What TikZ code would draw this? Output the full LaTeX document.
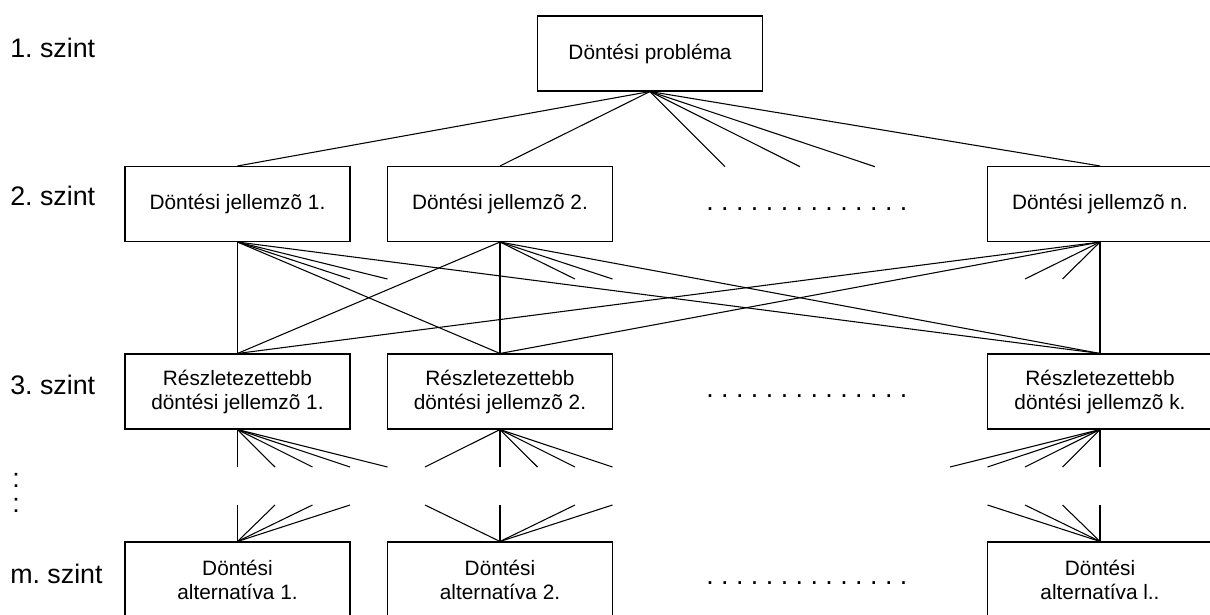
\documentclass[tikz,border=0pt]{standalone}
\usepackage{fontspec}
\setmainfont{Liberation Sans}
\frenchspacing
\begin{document}
\begin{tikzpicture}[x=0.75pt,y=-0.75pt,
  box/.style={draw,line width=0.8pt,minimum width=168.75pt,minimum height=56.25pt,
    inner sep=0pt,align=center,font=\fontsize{15.6pt}{18pt}\selectfont},
  lvl/.style={anchor=base west,inner sep=0pt,font=\fontsize{20.1pt}{24pt}\selectfont},
  dots/.style={anchor=base west,inner sep=0pt,font=\fontsize{20.1pt}{24pt}\selectfont},
  link/.style={line width=0.8pt}]
\useasboundingbox (0,0) rectangle (1210,614);
\fill[white] (0,0) rectangle (1210,614);
\clip (0,0) rectangle (1210,614);

% level labels
\node[lvl] (l1) at (10,57) {1. szint};
\node[lvl] (l2) at (10,205) {2. szint};
\node[lvl] (l3) at (10,394) {3. szint};
\node[lvl] (c1) at (12,487) {:};
\node[lvl] (c2) at (12,512) {:};
\node[lvl] (lm) at (10,583) {m. szint};

% boxes
\node[box] (T)  at (650,53.5) {Döntési probléma};
\node[box] (D1) at (237.5,204) {Döntési jellemzõ 1.};
\node[box] (D2) at (500,204) {Döntési jellemzõ 2.};
\node[box] (Dn) at (1100,204) {Döntési jellemzõ n.};
\node[box] (R1) at (237.5,391.5) {Részletezettebb\\döntési jellemzõ 1.};
\node[box] (R2) at (500,391.5) {Részletezettebb\\döntési jellemzõ 2.};
\node[box] (Rk) at (1100,391.5) {Részletezettebb\\döntési jellemzõ k.};
\node[box] (A1) at (237.5,579.5) {Döntési\\alternatíva 1.};
\node[box] (A2) at (500,579.5) {Döntési\\alternatíva 2.};
\node[box] (Al) at (1100,579.5) {Döntési\\alternatíva l..};

% ellipsis rows
\node[dots] (e2) at (706,210) {. . . . . . . . . . . . . .};
\node[dots] (e3) at (706,397) {. . . . . . . . . . . . . .};
\node[dots] (em) at (706,584) {. . . . . . . . . . . . . .};

% level 1 -> level 2
\foreach \x [count=\i] in {725,800,875} \coordinate (ts\i) at (\x,166.7);
\draw[link] (T.south) -- (D1.north);
\draw[link] (T.south) -- (D2.north);
\draw[link] (T.south) -- (Dn.north);
\foreach \i in {1,2,3} \draw[link] (T.south) -- (ts\i);

% level 2 -> level 3
\coordinate (a1) at (350,279);  \coordinate (a2) at (387.5,279);
\coordinate (b1) at (575,279);  \coordinate (b2) at (612.5,279);
\coordinate (n1) at (1025,279); \coordinate (n2) at (1062.5,279);
\foreach \d/\p/\q in {D1/a1/a2, D2/b1/b2, Dn/n1/n2}{
  \draw[link] (\d.south) -- (R1.north);
  \draw[link] (\d.south) -- (R2.north);
  \draw[link] (\d.south) -- (Rk.north);
  \draw[link] (\d.south) -- (\p);
  \draw[link] (\d.south) -- (\q);
}

% level 3 -> lower levels (stubs)
\foreach \x in {237.5,275,312.5,350,387.5}
  \draw[link] (R1.south) -- (\x,467);
\foreach \x in {425,500,537.5,575,612.5}
  \draw[link] (R2.south) -- (\x,467);
\foreach \x in {950,987.5,1025,1062.5,1100}
  \draw[link] (Rk.south) -- (\x,467);

% stubs -> level m
\foreach \x in {237.5,275,312.5,350}
  \draw[link] (\x,505) -- (A1.north);
\foreach \x in {425,500,575,612.5}
  \draw[link] (\x,505) -- (A2.north);
\foreach \x in {987.5,1025,1062.5,1100}
  \draw[link] (\x,505) -- (Al.north);
\end{tikzpicture}
\end{document}
